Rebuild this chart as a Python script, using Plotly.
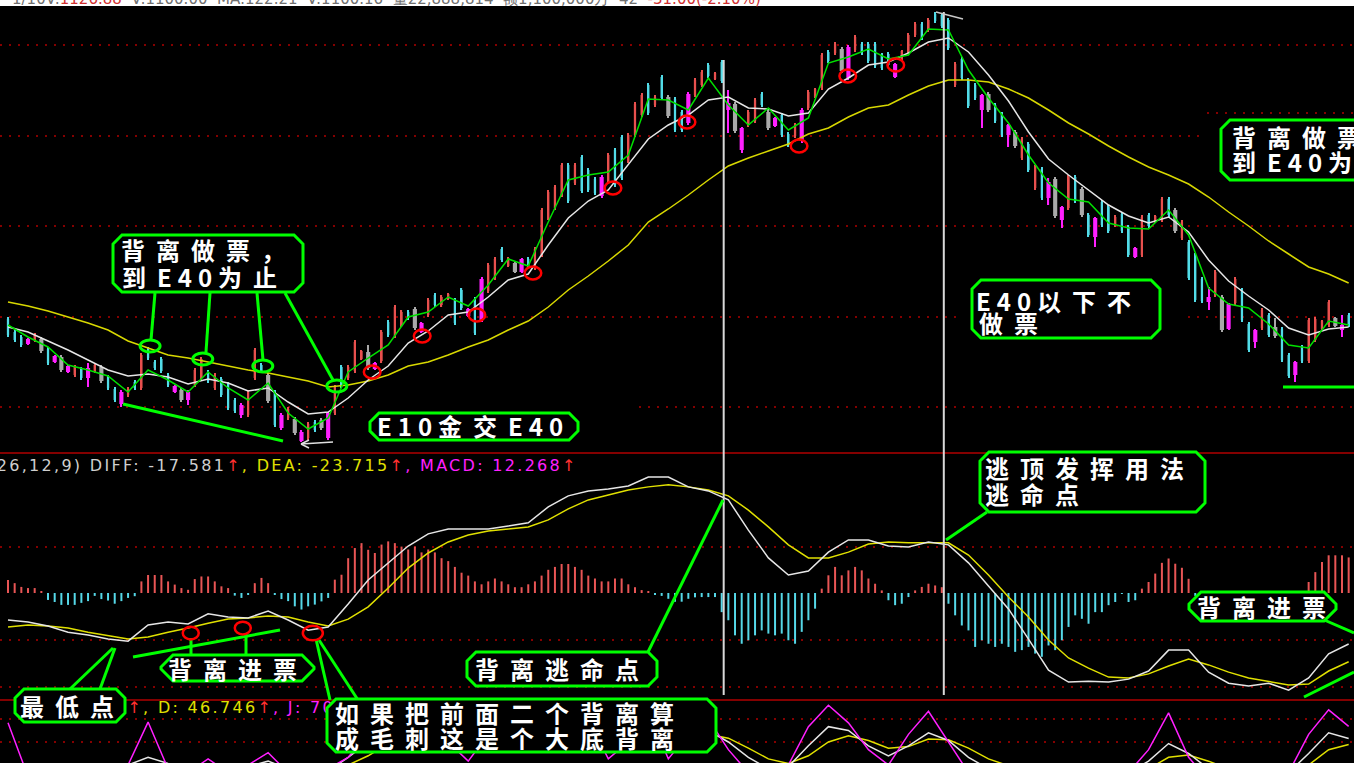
import plotly.graph_objects as go

# ---------------- data (price units: chart-internal scale) ----------------
KIND = list("cccmrgcmgmrcmrgccmrc"
            "rccccmgmrrcrcccmrrcg"
            "cmrgmrcgmrcrrrgmrcrr"
            "cgmrcrrccmcmrrcrgmcr"
            "rrrrcrcccmrccrrrcrcg"
            "ccmrrcrcmgmrrcgmccrm"
            "rrrcrgmrcccccmrrrcrc"
            "ccrcccmgccmgrcrcmgmr"
            "cgcmccrccmrcrrcgrccc"
            "mrgmrccmrcgccmcrrrrg"
            "mc")

OPEN = [181,168,163,161,160,161,151,144,143,134,
        125,131,132,129,133,123,111,108,105,118,
        112,151,138,141,125,114,110,108,115,122,
        128,112,121,116,100,95,85,122,135,125,
        108,85,82,81,68,62,78,80,87,87,
        133,122,129,141,148,137,139,178,164,175,
        188,191,177,185,205,195,201,200,210,191,
        201,180,209,222,251,234,237,241,241,232,
        245,282,292,305,335,317,343,330,321,323,
        319,350,363,339,365,385,415,395,423,403,
        401,388,406,405,415,435,421,438,397,396,
        372,375,379,406,388,382,385,366,364,359,
        392,403,412,448,447,451,453,450,456,456,
        456,445,446,436,441,449,465,476,470,486,
        485,480,415,441,420,415,405,406,395,386,
        375,368,342,356,312,331,318,321,293,292,
        323,311,285,282,298,293,275,286,273,252,
        245,285,278,280,301,290,262,258,245,221,
        203,205,203,196,197,210,176,170,172,185,
        173,171,145,138,153,139,160,171,175,182,
        175,185]
HIGH = [183,170,165,162,167,163,153,145,145,135,
        135,133,137,137,135,125,113,110,113,120,
        147,153,140,143,127,115,112,110,132,143,
        130,127,123,118,102,97,110,152,137,127,
        110,87,93,83,70,78,80,82,88,115,
        135,135,160,150,155,138,170,180,195,190,
        190,193,178,202,207,205,207,202,212,192,
        203,223,237,243,253,243,238,242,243,253,
        292,310,315,337,337,337,345,332,323,325,
        347,352,365,367,398,407,417,405,425,405,
        403,390,408,422,430,437,428,440,410,398,
        373,390,402,408,390,383,387,368,377,392,
        410,412,447,450,458,453,455,465,458,458,
        458,447,448,437,450,467,478,478,482,488,
        487,482,438,443,422,417,406,408,397,388,
        376,370,363,358,335,333,322,323,294,325,
        325,313,287,283,300,295,285,288,275,253,
        285,287,285,303,303,292,280,260,247,223,
        213,230,205,197,223,212,178,171,192,187,
        182,173,147,139,155,182,183,180,200,183,
        185,187]
LOW = [163,158,153,155,158,147,135,137,128,127,
       123,120,113,127,117,110,98,93,103,110,
       110,140,130,127,113,107,98,95,113,120,
       117,110,103,90,87,82,83,120,127,97,
       73,70,80,65,58,60,68,70,60,85,
       112,120,127,140,130,130,137,163,162,173,
       180,170,167,183,193,193,200,175,190,183,
       165,178,207,220,238,233,227,227,232,230,
       243,280,290,303,297,315,307,308,305,302,
       317,313,320,337,363,383,385,393,400,382,
       368,368,375,403,413,422,420,417,367,367,
       347,373,377,393,370,373,363,353,362,357,
       390,402,410,437,445,427,420,448,445,437,
       432,430,433,422,440,447,463,460,468,477,
       472,450,413,420,392,400,372,388,377,363,
       353,352,340,328,310,300,295,282,272,290,
       297,283,263,253,273,267,273,267,243,242,
       243,272,277,278,283,267,260,220,198,197,
       190,203,168,170,195,178,148,152,170,163,
       162,138,122,118,137,137,158,170,173,173,
       163,173]
CLOSE = [165,160,155,156,165,149,137,138,130,128,
         133,122,122,135,119,112,100,96,111,112,
         145,142,132,129,115,108,100,100,130,141,
         119,125,105,92,89,85,108,150,129,99,
         75,72,91,67,59,76,70,72,62,113,
         114,133,158,149,132,131,168,165,193,188,
         182,172,168,200,195,203,206,177,192,184,
         167,221,235,241,240,242,228,228,234,251,
         290,308,313,335,299,335,309,310,307,304,
         345,315,322,365,396,405,387,403,402,384,
         370,370,377,420,428,424,427,419,390,369,
         350,388,400,395,372,374,365,355,375,390,
         408,411,445,439,456,429,422,463,447,439,
         434,432,435,423,449,465,476,462,480,479,
         474,452,436,422,394,402,390,390,379,365,
         365,354,361,330,333,302,302,284,280,323,
         299,285,265,263,275,269,283,269,245,243,
         283,274,284,301,285,269,278,222,200,199,
         198,228,170,171,221,180,150,158,190,165,
         164,140,124,125,139,180,181,179,198,174,
         170,175]

LINE_IDX = list(range(0, 202, 3))
E5 = [175,163,153,135,130,124,108,130,120,108,
      128,112,100,117,87,71,82,128,142,155,
      183,188,203,194,215,241,234,278,320,325,
      328,345,401,400,390,422,395,375,392,370,
      382,437,443,451,441,445,471,470,430,402,
      377,345,317,301,298,277,272,271,290,265,
      212,196,192,176,155,152,179,175]
E10 = [173,168,159,150,140,130,124,126,123,116,
       121,117,109,112,98,86,88,102,120,134,
       157,169,185,188,203,220,226,255,282,299,
       310,335,361,375,385,400,403,392,391,384,
       387,411,422,435,438,447,458,462,448,425,
       399,368,341,325,310,295,284,277,283,268,
       240,219,204,190,172,165,171,173]
E40 = [198,194,189,183,177,170,159,152,145,142,
       138,134,130,127,123,119,113,115,119,125,
       134,138,145,153,160,170,179,193,210,224,
       239,255,278,291,305,320,334,342,349,356,
       366,372,383,392,395,405,414,420,420,418,
       411,402,390,377,366,354,343,333,325,316,
       303,288,274,259,246,233,226,217]

DIFF = [-9.3,-10.0,-11.4,-13.5,-14.5,-15.9,-16.6,-11.0,-10.0,-10.7,
        -7.2,-8.3,-8.6,-6.2,-9.3,-12.8,-11.7,-3.8,4.5,10.4,
        16.2,20.4,22.1,22.1,22.1,23.1,24.2,29.7,33.5,35.2,
        35.9,36.9,40.0,40.0,36.6,35.2,32.1,21.7,12.1,6.2,
        7.6,14.1,18.3,18.3,16.2,15.9,17.6,16.6,10.4,2.4,
        -5.5,-15.9,-26.6,-30.7,-30.4,-30.7,-29.7,-26.9,-19.7,-19.7,
        -27.3,-31.1,-32.1,-31.1,-33.5,-29.3,-21.0,-17.581]
DEA = [-11.7,-11.0,-11.4,-12.1,-13.5,-14.8,-15.9,-15.2,-13.5,-12.1,
       -10.4,-9.0,-8.6,-7.9,-8.3,-10.0,-11.4,-9.0,-4.8,1.7,
       8.6,13.8,17.6,20.0,21.4,22.1,22.8,25.2,29.0,32.1,
       33.8,35.5,36.6,37.3,36.6,35.5,33.5,28.6,22.8,16.6,
       12.1,12.1,14.1,16.9,17.6,17.3,17.3,17.3,13.1,6.2,
       -1.4,-8.3,-16.2,-22.4,-25.9,-29.0,-29.3,-27.9,-25.2,-22.8,
       -24.8,-27.3,-29.3,-30.4,-31.7,-31.4,-26.9,-23.715]
MACD_BAR = [4.5,3.4,2.1,1.7,1.7,0.5,-2.4,-3.1,-4.1,-4.1,
            -4.1,-3.4,-2.8,-1.0,-2.1,-2.6,-3.7,-2.8,-1.7,-1.1,
            4.0,6.2,6.2,6.2,4.0,2.9,1.7,1.1,4.8,5.7,
            5.7,4.0,2.3,1.7,-0.9,-1.7,-0.6,3.4,5.2,3.4,
            -0.6,-2.1,-2.8,-4.6,-5.7,-4.6,-4.0,-2.9,-1.7,4.6,
            6.3,12.0,15.5,17.2,14.9,13.8,16.7,17.8,17.2,16.0,
            15.0,16.0,14.0,15.0,14.0,12.0,11.0,9.0,7.0,6.0,
            4.0,3.0,4.0,5.0,4.0,3.0,2.0,2.0,3.0,4.0,
            6.0,8.0,9.0,10.0,10.0,9.0,8.0,6.0,5.0,4.0,
            4.0,5.0,5.0,3.0,2.0,1.0,0.5,-0.5,-1.0,-2.0,
            -3.0,-3.0,-2.0,-1.5,-1.4,-1.4,-1.4,-6.6,-9.4,-14.6,
            -17.5,-16.3,-14.6,-12.9,-14.0,-14.6,-14.0,-16.3,-17.5,-13.4,
            -9.4,-5.4,1.5,6.1,9.0,6.1,7.8,9.0,7.8,5.0,
            3.2,0.9,-2.5,-4.2,-3.7,-1.4,0.9,2.1,3.2,2.6,
            2.0,-3.7,-7.7,-11.2,-12.9,-18.6,-16.3,-17.5,-18.6,-17.5,
            -18.6,-20.3,-19.7,-18.6,-20.9,-22.0,-18.1,-19.7,-16.3,-11.7,
            -7.7,-8.9,-10.6,-6.6,-6.6,-4.2,-3.1,-0.3,-3.1,-2.5,
            1.5,3.8,6.7,10.4,11.9,10.1,8.7,4.9,-1.0,-2.5,
            -3.5,-6.0,-10.0,-8.0,-6.0,-5.0,-4.0,-3.5,-3.0,-2.5,
            -2.0,-1.5,-1.0,-0.5,0.5,3.8,7.2,10.7,13.0,13.0,
            13.0,12.268]

K_LINE = [18,14,12,5,5,8,20,30,22,15,20,15,18,25,15,8,12,30,50,70,
          80,78,60,45,55,70,72,78,85,80,55,55,70,50,55,65,50,30,15,18,
          45,70,65,45,32,45,62,52,30,15,8,5,8,10,6,7,10,25,48,35,
          15,8,8,6,10,35,62,54.598]
D_LINE = [20,18,16,14,12,10,14,20,21,18,18,17,17,20,18,14,13,20,32,48,
          62,70,66,55,55,62,68,73,80,80,68,60,65,58,56,60,55,42,28,22,
          32,50,58,52,42,44,54,53,42,28,18,10,8,9,8,7,8,15,30,33,
          25,15,11,8,9,20,40,46.746]
J_LINE = [75,5,0,-5,0,5,20,76,15,10,28,10,20,36,10,0,15,30,60,90,
          95,80,50,25,60,85,70,90,100,80,28,50,90,28,60,80,40,10,-5,20,
          70,98,75,40,20,60,90,50,10,-5,-10,-5,5,10,0,5,10,40,88,30,
          0,-5,5,0,10,60,92,70.302]

PRICE_GRID = [455, 364, 274, 183, 93]
MACD_GRID = [15.9, -16.2, -32.4]
KDJ_GRID = [80, 50]

BUY_MARK_IDX = [54.6, 62.1, 70.3, 78.7, 90.7, 101.8, 118.6, 125.9, 133.1]
BUY_MARK_PRICE = [128, 164, 185, 227, 312, 378, 354, 424, 435]
E40_TOUCH_IDX = [21.3, 29.2, 38.2, 49.3]
E40_TOUCH_PRICE = [154, 141, 134, 114]
MACD_MARK_IDX = [27.4, 35.2, 45.7]
MACD_MARK_VAL = [-13.8, -12.1, -13.8]
SIGNAL_LINES_IDX = [107.3, 140.3]

# ---------------- layout helpers ----------------
W, H = 1354, 763


def px(x):
    return x / W


def py(y):
    return 1 - y / H


GREEN = '#00ff00'
fig = go.Figure()
N = len(OPEN)
IDX = list(range(N))

CANDLE_COLORS = {'r': '#e8504e', 'c': '#52dce8', 'm': '#ff20ff', 'g': '#a9a9a9'}
BODY_W = {'r': 0.34, 'c': 0.34, 'm': 0.62, 'g': 0.62}
for k, col in CANDLE_COLORS.items():
    ids = [i for i in IDX if KIND[i] == k]
    fig.add_trace(go.Bar(x=ids, y=[HIGH[i] - LOW[i] for i in ids], base=[LOW[i] for i in ids],
                         width=0.17, marker=dict(color=col, line=dict(width=0)),
                         yaxis='y', hoverinfo='skip'))
    fig.add_trace(go.Bar(x=ids, y=[max(abs(CLOSE[i] - OPEN[i]), 0.6) for i in ids],
                         base=[min(OPEN[i], CLOSE[i]) for i in ids],
                         width=BODY_W[k], marker=dict(color=col, line=dict(width=0)),
                         yaxis='y', hoverinfo='skip'))

for vals, col in [(E40, '#d8d800'), (E10, '#e6e6e6'), (E5, '#00e000')]:
    fig.add_trace(go.Scatter(x=LINE_IDX, y=vals, mode='lines', line=dict(color=col, width=1.5),
                             yaxis='y', hoverinfo='skip'))

fig.add_trace(go.Bar(x=IDX, y=MACD_BAR, width=0.3,
                     marker=dict(color=['#e85555' if v > 0 else '#55d8e8' for v in MACD_BAR],
                                 line=dict(width=0)),
                     yaxis='y2', hoverinfo='skip'))
fig.add_trace(go.Scatter(x=LINE_IDX, y=DEA, mode='lines', line=dict(color='#e0e000', width=1.5),
                         yaxis='y2', hoverinfo='skip'))
fig.add_trace(go.Scatter(x=LINE_IDX, y=DIFF, mode='lines', line=dict(color='#e6e6e6', width=1.5),
                         yaxis='y2', hoverinfo='skip'))

for vals, col in [(D_LINE, '#e0e000'), (K_LINE, '#e6e6e6'), (J_LINE, '#ff20ff')]:
    fig.add_trace(go.Scatter(x=LINE_IDX, y=vals, mode='lines', line=dict(color=col, width=1.5),
                             yaxis='y3', hoverinfo='skip'))

# KDJ readout: only the part that is visible between the two callout boxes
SP = 'letter-spacing:2.3px;'
j_visible = f'{J_LINE[-1]:.3f}'[:3]
kdj_right = (f'<span style="{SP}color:#ff3030">↑</span>'
             f'<span style="{SP}color:#e0e000">, D: {D_LINE[-1]:.3f}</span>'
             f'<span style="{SP}color:#ff3030">↑</span>'
             f'<span style="{SP}color:#ff20ff">, J: {j_visible}</span>')
fig.add_trace(go.Scatter(x=[17.9], y=[93], mode='text', text=[kdj_right],
                         textposition='middle right',
                         textfont=dict(family='DejaVu Sans', size=16, color='#d8d8d8'),
                         yaxis='y3', hoverinfo='skip'))

shapes = []
# grid lines
for lv in PRICE_GRID:
    x1 = px(1206) if lv == 364 else 1
    shapes.append(dict(type='line', xref='paper', yref='y', x0=0, x1=x1, y0=lv, y1=lv,
                       line=dict(color='#b00000', width=1.5, dash='2px,7px'), layer='below'))
for lv in MACD_GRID:
    shapes.append(dict(type='line', xref='paper', yref='y2', x0=0, x1=1, y0=lv, y1=lv,
                       line=dict(color='#b00000', width=1.5, dash='2px,7px'), layer='below'))
for lv in KDJ_GRID:
    shapes.append(dict(type='line', xref='paper', yref='y3', x0=0, x1=1, y0=lv, y1=lv,
                       line=dict(color='#b00000', width=1.5, dash='2px,7px'), layer='below'))
# panel separators
for yy in (453, 700):
    shapes.append(dict(type='line', xref='paper', yref='paper', x0=0, x1=1, y0=py(yy), y1=py(yy),
                       line=dict(color='#b00000', width=1.5), layer='above'))


def rect(x0, y0, x1, y1, color='black'):
    shapes.append(dict(type='rect', xref='paper', yref='paper', x0=px(x0), x1=px(x1),
                       y0=py(y1), y1=py(y0), fillcolor=color, line=dict(width=0), layer='above'))


def gline(x0, y0, x1, y1, color=GREEN, w=3):
    shapes.append(dict(type='line', xref='paper', yref='paper', x0=px(x0), y0=py(y0),
                       x1=px(x1), y1=py(y1), line=dict(color=color, width=w), layer='above'))


def box(x0, y0, x1, y1, c=9):
    pts = [(x0 + c, y0), (x1 - c, y0), (x1, y0 + c), (x1, y1 - c), (x1 - c, y1),
           (x0 + c, y1), (x0, y1 - c), (x0, y0 + c)]
    path = 'M ' + ' L '.join(f'{px(a):.5f},{py(b):.5f}' for a, b in pts) + ' Z'
    shapes.append(dict(type='path', path=path, xref='paper', yref='paper', fillcolor='black',
                       line=dict(color=GREEN, width=3), layer='above'))


# black backgrounds of pasted callouts
rect(362, 398, 633, 447)
rect(962, 272, 1186, 346)
rect(1205, 108, 1354, 190)
shapes.append(dict(type='line', xref='paper', yref='y', x0=px(1207), x1=1, y0=387, y1=387,
                   line=dict(color='#b00000', width=1.5, dash='2px,7px'), layer='above'))

# vertical signal lines
for xi, ytop in zip(SIGNAL_LINES_IDX, (60, 12)):
    shapes.append(dict(type='line', xref='x', yref='paper', x0=xi, x1=xi, y0=py(695), y1=py(ytop),
                       line=dict(color='#d8d8d8', width=2), layer='above'))

# high / low price markers
gline(936, 12, 963, 19, '#c8c8c8', 1.5)
gline(301, 444, 333, 442, '#e0e0e0', 1.5)
gline(301, 444, 309, 440, '#e0e0e0', 1.5)
gline(301, 444, 309, 448, '#e0e0e0', 1.5)

# callout lines
for a in [(155, 293, 151, 340), (210, 293, 206, 352), (257, 293, 263, 360), (285, 293, 333, 380),
          (123, 404, 283, 441), (1283, 387, 1354, 387),
          (648, 652, 723, 500), (987, 512, 946, 540), (133, 657, 280, 630),
          (191, 638, 191, 656), (246, 634, 246, 656), (316, 639, 330, 700), (319, 640, 358, 700),
          (70, 689, 113, 648), (100, 689, 115, 648), (1322, 619, 1354, 633), (1304, 697, 1354, 672)]:
    gline(*a)

# markers (data coordinates)
for xi, pv in zip(E40_TOUCH_IDX, E40_TOUCH_PRICE):
    shapes.append(dict(type='circle', xref='x', yref='y', x0=xi - 1.5, x1=xi + 1.5, y0=pv - 6,
                       y1=pv + 6, line=dict(color=GREEN, width=3), layer='above'))
for xi, pv in zip(BUY_MARK_IDX, BUY_MARK_PRICE):
    shapes.append(dict(type='circle', xref='x', yref='y', x0=xi - 1.25, x1=xi + 1.25, y0=pv - 6.5,
                       y1=pv + 6.5, line=dict(color='#ff0000', width=2.5), layer='above'))
for n, (xi, mv) in enumerate(zip(MACD_MARK_IDX, MACD_MARK_VAL)):
    rx, ry = (1.2, 2.2) if n < 2 else (1.5, 2.5)
    shapes.append(dict(type='circle', xref='x', yref='y2', x0=xi - rx, x1=xi + rx, y0=mv - ry,
                       y1=mv + ry, line=dict(color='#ff0000', width=2.5), layer='above'))

# callout boxes
box(113, 235, 303, 292)
box(370, 413, 578, 440)
box(972, 280, 1160, 338)
box(1221, 120, 1430, 180)
box(980, 452, 1205, 512)
box(467, 652, 657, 686)
box(161, 655, 314, 681, 12)
box(15, 689, 125, 722)
box(327, 699, 716, 752)
box(1189, 592, 1336, 621, 12)

# top header strip
rect(0, 0, 1354, 6, 'white')

annotations = []


def styled(s, cjk=11, lat=6):
    runs, cur, buf = [], None, ''
    for ch in s:
        t = ord(ch) > 0x2000
        if cur is None or t == cur:
            buf += ch
        else:
            runs.append((cur, buf))
            buf = ch
        cur = t
    runs.append((cur, buf))
    return ''.join(f'<span style="letter-spacing:{cjk if t else lat}px">{r}</span>' for t, r in runs)


def txt(x, y, s):
    annotations.append(dict(x=px(x), y=py(y), xref='paper', yref='paper', xanchor='left',
                            yanchor='middle', showarrow=False, text=styled(s),
                            font=dict(family='Noto Sans CJK SC', size=24, color='white',
                                      weight='bold')))


txt(119, 250, '背离做票，')
txt(120, 277, '到E40为止')
txt(375, 426, 'E10金交E40')
txt(974, 300, 'E40以下不')
txt(977, 323, '做票')
txt(1230, 137, '背离做票，')
txt(1230, 162, '到E40为止')
txt(983, 467, '逃顶发挥用法')
txt(983, 493, '逃命点')
txt(473, 668, '背离逃命点')
txt(166, 668, '背离进票')
txt(18, 705, '最低点')
txt(333, 712, '如果把前面二个背离算')
txt(333, 737, '成毛刺这是个大底背离')
txt(1195, 606, '背离进票')

macd_txt = (f'<span style="{SP}color:#cfcfcf">MACD(26,12,9) DIFF: {DIFF[-1]:.3f}</span>'
            f'<span style="{SP}color:#ff3030">↑</span>'
            f'<span style="{SP}color:#e0e000">, DEA: {DEA[-1]:.3f}</span>'
            f'<span style="{SP}color:#ff3030">↑</span>'
            f'<span style="{SP}color:#ff20ff">, MACD: {MACD_BAR[-1]:.3f}</span>'
            f'<span style="{SP}color:#ff3030">↑</span>')
annotations.append(dict(x=px(580), y=py(465), xref='paper', yref='paper', xanchor='right',
                        yanchor='middle', showarrow=False, text=macd_txt,
                        font=dict(family='DejaVu Sans', size=16, color='#cfcfcf')))

header = ('<span style="color:#707070">1/10V:</span><span style="color:#d03030">1126.88</span>'
          '<span style="color:#707070">  V:1100.00  MA:122.21  V:1100.16  量22,888,814  额1,100,000万  42  </span>'
          '<span style="color:#d03030">-31.00(-2.10%)</span>')
annotations.append(dict(x=px(10), y=py(10.5), xref='paper', yref='paper', xanchor='left',
                        yanchor='bottom', showarrow=False, text=header,
                        font=dict(family='DejaVu Sans', size=15, color='#707070')))

fig.update_layout(
    width=W, height=H, autosize=False,
    margin=dict(l=0, r=0, t=0, b=0, pad=0),
    paper_bgcolor='black', plot_bgcolor='black',
    showlegend=False, barmode='overlay',
    xaxis=dict(range=[-1.2, 201.8], visible=False, fixedrange=True),
    yaxis=dict(domain=[py(453), py(8)], range=[47, 492], visible=False, fixedrange=True),
    yaxis2=dict(domain=[py(700), py(453)], range=[-36.9, 48.28], visible=False, anchor='x',
                fixedrange=True),
    yaxis3=dict(domain=[0, py(700)], range=[22.6, 104.8], visible=False, anchor='x',
                fixedrange=True),
    shapes=shapes, annotations=annotations,
)

fig.write_html("out.html", config={'displayModeBar': False},
               post_script="document.body.style.margin='0';document.body.style.overflow='hidden';")
